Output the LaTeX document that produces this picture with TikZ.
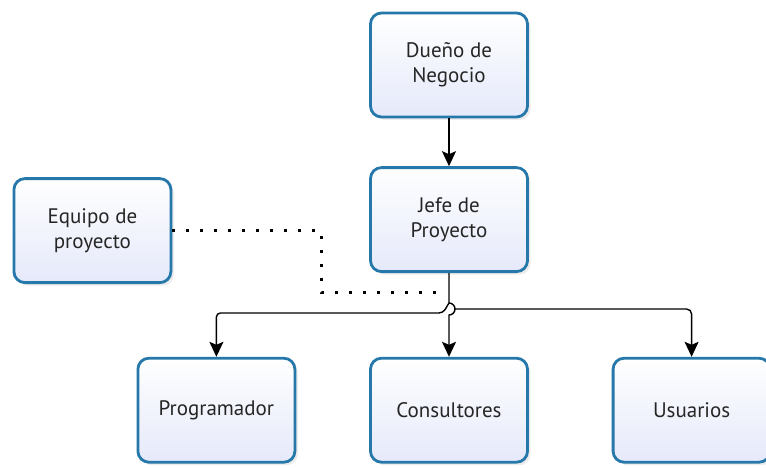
\documentclass[tikz,border=0pt]{standalone}
\usepackage{fontspec}
\setmainfont{PT Sans}
\usepackage{xcolor}
\usepackage{tikz}
\usetikzlibrary{arrows.meta}
\usetikzlibrary{calc}
\usetikzlibrary{positioning}
\usetikzlibrary{shadows}
\definecolor{boxline}{RGB}{38,120,170}
\definecolor{boxfill}{RGB}{229,233,250}

\begin{document}
\begin{tikzpicture}[>={Stealth[length=15pt,width=14pt,inset=3pt]}, line width=1.4pt, node distance=47.8pt, every node/.style={font=\fontsize{21}{25}\selectfont}]
						\tikzstyle{role}=[draw=boxline, line width=2.8pt, rounded corners=11pt, top color=white, bottom color=boxfill, minimum width=157pt, minimum height=104pt, align=center, text=black!85, drop shadow={opacity=.15, shadow xshift=3pt, shadow yshift=-3pt}]
						\tikzstyle{dots}=[line width=3pt, dash pattern=on 3pt off 11pt]
						\useasboundingbox (0,0) rectangle (766pt,-467pt);
						\node[role] 		(dueno) at (449pt,-65pt)		{Due\~no de\\Negocio};
 					 	\node[role] 			(jefe) [below=of dueno]            {Jefe de\\Proyecto};
						\node[role] 			(equipo) [left=196.8pt of jefe, yshift=-11pt]            	{Equipo de\\proyecto};
						\node[role] 			(cons) [below=83.8pt of jefe]            {Consultores};
 					 	\node[role] 			(prog) [left=72.8pt of cons]            {Programador};
						\node[role] 			(usu) [right=82.8pt of cons]            {Usuarios};
						\coordinate (hop) at ($(jefe.south)+(0,-30pt)$);
						\coordinate (hopr) at ($(hop)+(6pt,-6pt)$);
						\coordinate (dotend) at ($(jefe.south)+(-4pt,-19pt)$);
 				  \path[->]
					 (dueno) edge (jefe);
				  \draw[->] (jefe.south) -- (hop) arc[start angle=90, end angle=-90, radius=6pt] -- (cons.north);
				  \draw[->, rounded corners=5pt] (hopr) -| (usu.north);
				  \draw[->, rounded corners=4pt] (hop) -- ++(-6pt,-10pt) -| (prog.north);
				  %\draw (equipo) -- (jefe);
				  \draw[dots] (equipo.east) -- ++(149pt,0) |- (dotend);
				\end{tikzpicture}
\end{document}
